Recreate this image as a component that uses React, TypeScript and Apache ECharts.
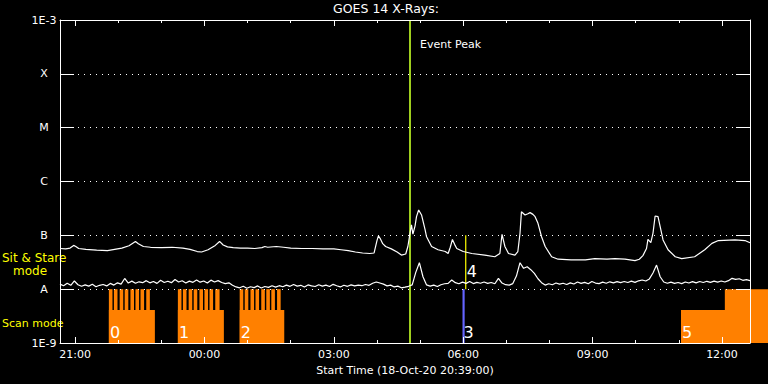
import React, { useEffect, useRef } from "react";
import * as echarts from "echarts";

const FONT = "DejaVu Sans";
const TITLE = "GOES 14 X-Rays:";
const START_LABEL = "Start Time (18-Oct-20 20:39:00)";
const AXIS_START = "20:39";
const AXIS_END = "12:39";

const yTickExponents = [-9, -8, -7, -6, -5, -4, -3];
const yTickLabels = ["1E-9", "A", "B", "C", "M", "X", "1E-3"];
const Y_MIN = 1e-9;
const Y_MAX = 1e-3;

const xMajorTicks = ["21:00", "00:00", "03:00", "06:00", "09:00", "12:00"];
const xMinorTicks = [
  "21:00", "22:00", "23:00", "00:00", "01:00", "02:00", "03:00", "04:00",
  "05:00", "06:00", "07:00", "08:00", "09:00", "10:00", "11:00", "12:00",
];

const UNIT = 1e-9; // W/m^2

// GOES long channel (1-8 A)
const longTimes = [
  "20:39", "20:47", "20:53", "20:58", "21:01", "21:05", "21:15", "21:30", "21:45", "21:55",
  "22:05", "22:15", "22:24", "22:28", "22:35", "22:45", "23:00", "23:15", "23:30", "23:40",
  "23:50", "23:56", "00:05", "00:15", "00:21", "00:26", "00:32", "00:40", "00:50", "01:00",
  "01:10", "01:20", "01:24", "01:28", "01:40", "01:50", "02:00", "02:15", "02:30", "02:45",
  "03:00", "03:10", "03:20", "03:30", "03:40", "03:50", "03:56", "04:00", "04:02", "04:05",
  "04:08", "04:12", "04:20", "04:28", "04:34", "04:40", "04:43", "04:46", "04:48", "04:50",
  "04:53", "04:55", "04:58", "05:02", "05:07", "05:09", "05:16", "05:25", "05:35", "05:39",
  "05:42", "05:45", "05:48", "05:51", "06:00", "06:12", "06:30", "06:44", "06:51", "06:53",
  "06:54", "06:58", "07:03", "07:12", "07:16", "07:19", "07:21", "07:26", "07:30", "07:33",
  "07:37", "07:40", "07:44", "07:49", "07:54", "08:03", "08:12", "08:30", "08:50", "09:03",
  "09:20", "09:31", "09:45", "09:59", "10:05", "10:10", "10:15", "10:17", "10:21", "10:24",
  "10:27", "10:31", "10:34", "10:38", "10:45", "10:55", "11:04", "11:22", "11:36", "11:46",
  "11:55", "12:18", "12:32", "12:39",
];
const longValues = [
  57, 56, 58, 65, 62, 57, 55, 53, 52, 55,
  58, 64, 77, 70, 62, 60, 59, 60, 58, 55,
  50, 49, 54, 65, 77, 66, 61, 59, 58, 58,
  57, 59, 62, 60, 62, 60, 58, 57, 57, 56,
  56, 54, 52, 49, 47, 46, 47, 80, 98, 85,
  70, 62, 56, 49, 43, 45, 62, 110, 156, 105,
  150, 222, 296, 239, 126, 94, 62, 54, 50, 46,
  60, 84, 68, 57, 50, 46, 43, 40, 46, 80,
  104, 62, 46, 43, 50, 109, 275, 239, 252, 264,
  245, 222, 167, 94, 62, 40, 36, 35, 35, 37,
  36, 37, 36, 34, 36, 42, 57, 84, 73, 109,
  229, 222, 145, 82, 54, 40, 37, 40, 54, 71,
  80, 82, 80, 73,
];

// GOES short channel (0.5-4 A), 5-minute samples from 20:39
const SHORT_START = "20:39";
const SHORT_STEP_MIN = 5;
const shortValues = [
  12.4, 11.6, 12.9, 11.8, 14.2, 12.1, 11.3, 12.0, 11.4, 12.3, 11.1, 11.8,
  12.2, 11.5, 12.8, 11.9, 13.1, 12.4, 15.8, 13.0, 14.1, 12.9, 13.7, 13.2,
  14.4, 13.1, 13.9, 12.8, 14.6, 13.3, 14.0, 13.2, 15.1, 13.6, 14.3, 13.0,
  14.1, 13.4, 14.8, 13.5, 14.2, 13.0, 14.7, 13.6, 14.4, 13.3, 12.7, 13.1,
  11.8, 11.0, 10.6, 11.3, 10.4, 11.1, 10.7, 11.5, 10.5, 11.2, 10.8, 11.6,
  10.9, 11.6, 11.1, 11.9, 11.3, 12.2, 11.4, 11.8, 11.0, 12.0, 11.5, 11.2,
  12.1, 11.4, 11.9, 11.2, 12.3, 11.6, 11.0, 11.8, 11.3, 12.0, 11.5, 11.9,
  11.6, 12.2, 11.8, 12.9, 13.6, 13.0, 12.4, 11.5, 11.9, 11.0, 11.4, 10.6,
  10.9, 11.3, 12.0, 20.5, 31.0, 17.0, 12.0, 11.4, 11.9, 11.2, 12.1, 12.6,
  12.8, 14.8, 13.2, 12.6, 13.5, 12.8, 13.9, 12.7, 13.4, 12.9, 13.6, 12.8,
  13.3, 12.6, 15.9, 13.0, 12.1, 11.9, 12.7, 17.5, 31.0, 24.4, 26.1, 23.0,
  19.7, 15.6, 13.2, 11.9, 12.6, 12.1, 13.0, 12.4, 12.9, 12.2, 13.1, 12.5,
  13.6, 12.8, 13.4, 12.6, 13.9, 13.0, 12.7, 13.5, 12.9, 13.7, 13.1, 13.8,
  13.2, 13.9, 13.3, 14.1, 13.4, 14.3, 14.8, 14.2, 15.5, 20.0, 28.0, 17.0,
  13.6, 12.9, 13.5, 12.8, 13.3, 12.7, 13.6, 13.0, 13.8, 13.1, 13.9, 13.3,
  14.0, 13.4, 14.1, 13.5, 14.2, 13.6, 14.4, 15.9, 15.2, 15.6, 14.6, 15.0,
  14.4,
];

const EVENT_PEAK = "04:46:30";
const EVENT_LABEL = "Event Peak";

// scan-mode intervals
const scanLabels = ["0", "1", "2", "5"];
const scanStarts = ["21:47", "23:23", "00:49", "11:03"];
const scanEnds = ["22:51", "00:27", "01:51", "13:05"];
const SCAN_LOW = 4.1e-9;
const SCAN_HIGH = 1e-8;
const scanTallStarts = [
  "21:47", "21:54", "22:02", "22:09", "22:17", "22:24", "22:31", "22:39",
  "23:23", "23:30", "23:38", "23:45", "23:53", "00:00", "00:07", "00:15",
  "00:49", "00:56", "01:04", "01:11", "01:19", "01:26", "01:33", "01:41",
  "12:04",
];
const scanTallEnds = [
  "21:52", "21:59", "22:07", "22:14", "22:22", "22:29", "22:36", "22:44",
  "23:28", "23:35", "23:43", "23:50", "23:58", "00:05", "00:12", "00:21",
  "00:54", "01:01", "01:09", "01:16", "01:24", "01:31", "01:38", "01:46",
  "13:05",
];

// raster "3" and sit & stare "4"
const rasterStart = "05:59";
const rasterEnd = "06:02";
const rasterLabel = "3";
const stareTime = "06:03:30";
const stareTop = 1e-7;
const stareBottom = 1e-8;
const stareLabel = "4";

const ORANGE = "#ff8000";
const BLUE = "#6464ff";
const YELLOW = "#ffff00";
const GREEN = "#9fcf1f";

function toHours(clock: string): number {
  const parts = clock.split(":").map(Number);
  let h = parts[0] + parts[1] / 60 + (parts[2] || 0) / 3600;
  if (h < 20) h += 24;
  return h - 21;
}

const X_MIN = toHours(AXIS_START);
const X_MAX = toHours(AXIS_END);

function fmtClock(v: number): string {
  const hh = (((Math.round(v) + 21) % 24) + 24) % 24;
  return (hh < 10 ? "0" : "") + hh + ":00";
}

export default function App() {
  const ref = useRef<HTMLDivElement>(null);
  useEffect(() => {
    if (!ref.current) return;
    const chart = echarts.init(ref.current, undefined, { renderer: "svg" });

    const longData = longTimes.map((t, i) => [toHours(t), longValues[i] * UNIT]);
    const shortStartH = toHours(SHORT_START);
    const shortData = shortValues.map((v, i) => [shortStartH + (i * SHORT_STEP_MIN) / 60, v * UNIT]);

    const scanRects: number[][] = [];
    scanStarts.forEach((s, i) => scanRects.push([toHours(s), toHours(scanEnds[i]), SCAN_LOW, Y_MIN]));
    scanTallStarts.forEach((s, i) => scanRects.push([toHours(s), toHours(scanTallEnds[i]), SCAN_HIGH, Y_MIN]));

    const majorH = xMajorTicks.map(toHours);
    const minorH = xMinorTicks.map(toHours);

    const xBase: any = {
      type: "value",
      min: X_MIN,
      max: X_MAX,
      z: 10,
      splitLine: { show: false },
      axisLine: { show: true, onZero: false, lineStyle: { color: "#fff", width: 1 } },
      axisLabel: { show: false },
    };
    const yBase: any = {
      type: "log",
      logBase: 10,
      min: Y_MIN,
      max: Y_MAX,
      splitNumber: 6,
      z: 10,
      axisLine: { show: true, onZero: false, lineStyle: { color: "#fff", width: 1 } },
      axisTick: { show: true, inside: true, length: 14, lineStyle: { color: "#fff", width: 1 } },
    };

    const option: any = {
      animation: false,
      backgroundColor: "#000",
      textStyle: { fontFamily: FONT },
      grid: { left: 60, right: 18, top: 20, bottom: 41 },
      graphic: [
        { type: "text", x: 386, y: 8, style: { text: TITLE, fill: "#fff", fontSize: 12.5, fontFamily: FONT, align: "center", verticalAlign: "middle" } },
        { type: "text", x: 420, y: 44, style: { text: EVENT_LABEL, fill: "#fff", fontSize: 11, fontFamily: FONT, align: "left", verticalAlign: "middle" } },
        { type: "text", x: 2, y: 258, style: { text: "Sit & Stare", fill: YELLOW, fontSize: 12, fontFamily: FONT, align: "left", verticalAlign: "middle" } },
        { type: "text", x: 13, y: 271, style: { text: "mode", fill: YELLOW, fontSize: 12, fontFamily: FONT, align: "left", verticalAlign: "middle" } },
        { type: "text", x: 2, y: 323.5, style: { text: "Scan mode", fill: YELLOW, fontSize: 11, fontFamily: FONT, align: "left", verticalAlign: "middle" } },
      ],
      xAxis: [
        {
          ...xBase,
          position: "bottom",
          axisTick: { show: true, inside: true, length: 6, customValues: majorH, lineStyle: { color: "#fff" } },
          axisLabel: { show: true, customValues: majorH, formatter: fmtClock, color: "#fff", fontSize: 11, fontFamily: FONT, margin: 6 },
          name: START_LABEL,
          nameLocation: "middle",
          nameGap: 19,
          nameTextStyle: { color: "#fff", fontSize: 11, fontFamily: FONT, verticalAlign: "top" },
        },
        {
          ...xBase,
          position: "bottom",
          axisLine: { show: false },
          axisTick: { show: true, inside: true, length: 3, customValues: minorH, lineStyle: { color: "#fff" } },
        },
        {
          ...xBase,
          position: "top",
          axisTick: { show: true, inside: true, length: 6, customValues: majorH, lineStyle: { color: "#fff" } },
        },
        {
          ...xBase,
          position: "top",
          axisLine: { show: false },
          axisTick: { show: true, inside: true, length: 3, customValues: minorH, lineStyle: { color: "#fff" } },
        },
      ],
      yAxis: [
        {
          ...yBase,
          position: "left",
          axisLabel: {
            show: true,
            color: "#fff",
            fontSize: 11,
            fontFamily: FONT,
            align: "center",
            margin: 16,
            formatter: (v: number) => {
              const e = Math.round(Math.log10(v));
              const idx = yTickExponents.indexOf(e);
              return idx >= 0 ? yTickLabels[idx] : "";
            },
          },
          splitLine: { show: true, lineStyle: { color: "#fff", width: 1, type: [1, 5] } },
        },
        {
          ...yBase,
          position: "right",
          axisLabel: { show: false },
          splitLine: { show: false },
        },
      ],
      series: [
        {
          type: "custom",
          name: "scan",
          xAxisIndex: 0,
          yAxisIndex: 0,
          z: 2,
          clip: false,
          encode: { x: [0, 1], y: [2, 3] },
          data: scanRects,
          renderItem: (_p: any, api: any) => {
            const a = api.coord([api.value(0), api.value(2)]);
            const b = api.coord([api.value(1), api.value(3)]);
            return {
              type: "rect",
              shape: { x: a[0], y: a[1], width: b[0] - a[0], height: b[1] - a[1] },
              style: { fill: ORANGE },
            };
          },
        },
        {
          type: "custom",
          name: "scanLabels",
          xAxisIndex: 0,
          yAxisIndex: 0,
          z: 4,
          clip: false,
          encode: { x: 0, y: 1 },
          data: scanStarts.map((s) => [toHours(s), Y_MIN]),
          renderItem: (p: any, api: any) => {
            const a = api.coord([api.value(0), api.value(1)]);
            return {
              type: "text",
              x: a[0] + 1,
              y: a[1] - 10.5,
              style: { text: scanLabels[p.dataIndex], fill: "#fff", fontSize: 16, fontFamily: FONT, align: "left", verticalAlign: "middle" },
            };
          },
        },
        {
          type: "custom",
          name: "raster",
          xAxisIndex: 0,
          yAxisIndex: 0,
          z: 3,
          encode: { x: [0, 1], y: [2, 3] },
          data: [[toHours(rasterStart), toHours(rasterEnd), SCAN_HIGH, Y_MIN]],
          renderItem: (_p: any, api: any) => {
            const a = api.coord([api.value(0), api.value(2)]);
            const b = api.coord([api.value(1), api.value(3)]);
            return {
              type: "group",
              children: [
                { type: "rect", shape: { x: a[0], y: a[1], width: b[0] - a[0], height: b[1] - a[1] }, style: { fill: BLUE } },
                { type: "text", x: a[0] + 1, y: b[1] - 10.5, style: { text: rasterLabel, fill: "#fff", fontSize: 16, fontFamily: FONT, align: "left", verticalAlign: "middle" } },
              ],
            };
          },
        },
        {
          type: "custom",
          name: "stare",
          xAxisIndex: 0,
          yAxisIndex: 0,
          z: 3,
          encode: { x: 0, y: [1, 2] },
          data: [[toHours(stareTime), stareTop, stareBottom]],
          renderItem: (_p: any, api: any) => {
            const a = api.coord([api.value(0), api.value(1)]);
            const b = api.coord([api.value(0), api.value(2)]);
            return {
              type: "group",
              children: [
                { type: "line", shape: { x1: a[0], y1: a[1], x2: b[0], y2: b[1] }, style: { stroke: YELLOW, lineWidth: 1.2 } },
                { type: "text", x: b[0] + 1, y: b[1] - 18, style: { text: stareLabel, fill: "#fff", fontSize: 16, fontFamily: FONT, align: "left", verticalAlign: "middle" } },
              ],
            };
          },
        },
        {
          type: "line",
          name: "long",
          xAxisIndex: 0,
          yAxisIndex: 0,
          z: 5,
          data: longData,
          symbol: "none",
          lineStyle: { color: "#fff", width: 1.2 },
          markLine: {
            silent: true,
            symbol: ["none", "none"],
            label: { show: false },
            lineStyle: { color: GREEN, width: 2, type: "solid" },
            data: [{ xAxis: toHours(EVENT_PEAK) }],
          },
        },
        {
          type: "line",
          name: "short",
          xAxisIndex: 0,
          yAxisIndex: 0,
          z: 5,
          data: shortData,
          symbol: "none",
          lineStyle: { color: "#fff", width: 1.2 },
        },
      ],
    };
    chart.setOption(option);
    return () => chart.dispose();
  }, []);
  return <div ref={ref} style={{ position: "fixed", left: 0, top: 0, width: 768, height: 384 }} />;
}
